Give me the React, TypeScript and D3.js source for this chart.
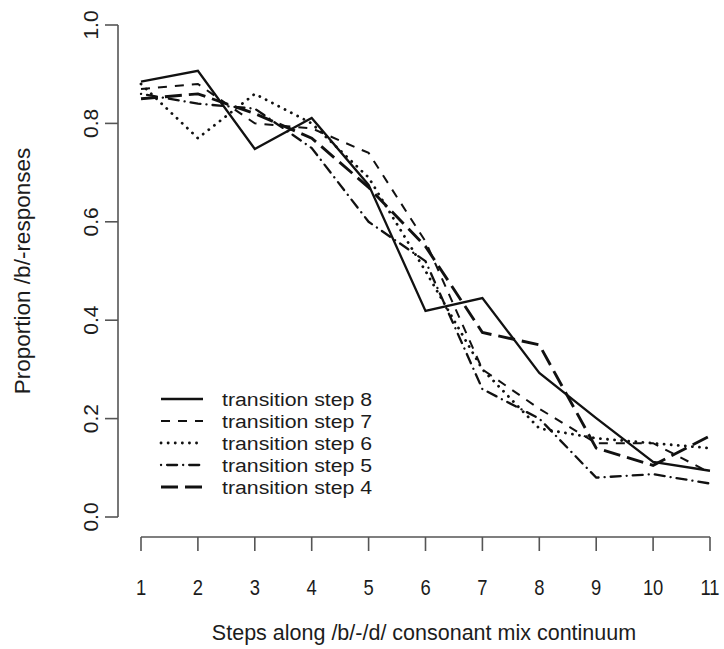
import React, { useRef, useEffect } from "react";
import * as d3 from "d3";

// continuum steps along /b/-/d/
const steps = [1, 2, 3, 4, 5, 6, 7, 8, 9, 10, 11];
const yTicks = [0, 0.2, 0.4, 0.6, 0.8, 1.0];

// proportion of /b/ responses per transition step
const step8 = [0.885, 0.907, 0.748, 0.811, 0.675, 0.419, 0.445, 0.293, 0.201, 0.112, 0.094];
const step7 = [0.87, 0.88, 0.8, 0.79, 0.74, 0.56, 0.3, 0.22, 0.15, 0.15, 0.09];
const step6 = [0.88, 0.77, 0.86, 0.8, 0.69, 0.5, 0.3, 0.18, 0.16, 0.15, 0.14];
const step5 = [0.86, 0.84, 0.83, 0.75, 0.6, 0.52, 0.26, 0.2, 0.08, 0.087, 0.068];
const step4 = [0.85, 0.86, 0.82, 0.77, 0.67, 0.55, 0.375, 0.35, 0.14, 0.105, 0.165];

const seriesNames = [
  "transition step 8",
  "transition step 7",
  "transition step 6",
  "transition step 5",
  "transition step 4",
];
const seriesValues = [step8, step7, step6, step5, step4];

// stroke look per series (same order as names)
const strokeStyles = [
  { dash: null, width: 2.3, cap: "butt" },
  { dash: "9,8", width: 2, cap: "butt" },
  { dash: "0.1,7", width: 2.8, cap: "round" },
  { dash: "0.1,6,10,6", width: 2.3, cap: "round" },
  { dash: "17,7", width: 2.9, cap: "butt" },
];

const FONT = "Arial, 'Liberation Sans', sans-serif";

function App() {
  const svgRef = useRef(null);

  useEffect(() => {
    const svg = d3.select(svgRef.current);
    svg.selectAll("*").remove();

    const x = d3.scaleLinear().domain([1, 11]).range([141, 710]);
    const y = d3.scaleLinear().domain([0, 1]).range([517, 25]);

    const axisColor = "#555";
    const textColor = "#1c1c1c";

    // y axis
    svg
      .append("line")
      .attr("x1", 118)
      .attr("x2", 118)
      .attr("y1", y(0))
      .attr("y2", y(1))
      .attr("stroke", axisColor)
      .attr("stroke-width", 1.6);
    const yt = svg.selectAll(".ytick").data(yTicks).join("g").attr("class", "ytick");
    yt.append("line")
      .attr("x1", 105)
      .attr("x2", 118)
      .attr("y1", (d) => y(d))
      .attr("y2", (d) => y(d))
      .attr("stroke", axisColor)
      .attr("stroke-width", 1.6);
    yt.append("text")
      .attr("transform", (d) => "translate(98," + y(d) + ") rotate(-90)")
      .attr("text-anchor", "middle")
      .attr("font-family", FONT)
      .attr("font-size", 21)
      .attr("fill", textColor)
      .text((d) => d.toFixed(1));

    // x axis
    svg
      .append("line")
      .attr("x1", x(1))
      .attr("x2", x(11))
      .attr("y1", 537)
      .attr("y2", 537)
      .attr("stroke", axisColor)
      .attr("stroke-width", 1.6);
    const xt = svg.selectAll(".xtick").data(steps).join("g").attr("class", "xtick");
    xt.append("line")
      .attr("x1", (d) => x(d))
      .attr("x2", (d) => x(d))
      .attr("y1", 537)
      .attr("y2", 551)
      .attr("stroke", axisColor)
      .attr("stroke-width", 1.6);
    xt.append("text")
      .attr("transform", (d) => "translate(" + x(d) + ",595) scale(0.92,1.1)")
      .attr("text-anchor", "middle")
      .attr("font-family", FONT)
      .attr("font-size", 20)
      .attr("fill", textColor)
      .text((d) => d);

    // axis titles
    svg
      .append("text")
      .attr("x", 424)
      .attr("y", 640)
      .attr("text-anchor", "middle")
      .attr("font-family", FONT)
      .attr("font-size", 21.5)
      .attr("fill", textColor)
      .text("Steps along /b/-/d/ consonant mix continuum");
    svg
      .append("text")
      .attr("transform", "translate(30,271) rotate(-90)")
      .attr("text-anchor", "middle")
      .attr("font-family", FONT)
      .attr("font-size", 22.5)
      .attr("fill", textColor)
      .text("Proportion /b/-responses");

    // series lines
    const line = d3
      .line()
      .x((d, i) => x(steps[i]))
      .y((d) => y(d));

    seriesValues.forEach((vals, k) => {
      const st = strokeStyles[k];
      svg
        .append("path")
        .datum(vals)
        .attr("d", line)
        .attr("fill", "none")
        .attr("stroke", "#111")
        .attr("stroke-width", st.width)
        .attr("stroke-linecap", st.cap)
        .attr("stroke-linejoin", "miter")
        .attr("stroke-dasharray", st.dash);
    });

    // legend
    const lg = svg
      .selectAll(".legend")
      .data(seriesNames)
      .join("g")
      .attr("class", "legend")
      .attr("transform", (d, i) => "translate(0," + (399 + i * 22) + ")");
    lg.append("line")
      .attr("x1", 161)
      .attr("x2", 203)
      .attr("y1", 0)
      .attr("y2", 0)
      .attr("stroke", "#111")
      .attr("stroke-width", (d, i) => strokeStyles[i].width)
      .attr("stroke-linecap", (d, i) => strokeStyles[i].cap)
      .attr("stroke-dasharray", (d, i) => strokeStyles[i].dash);
    lg.append("text")
      .attr("transform", "translate(222,7) scale(1.12,1)")
      .attr("font-family", FONT)
      .attr("font-size", 19)
      .attr("fill", textColor)
      .text((d) => d);
  }, []);

  return (
    <div>
      <svg
        ref={svgRef}
        width={724}
        height={649}
        style={{ position: "absolute", left: 0, top: 0, display: "block" }}
      />
    </div>
  );
}

export default App;
